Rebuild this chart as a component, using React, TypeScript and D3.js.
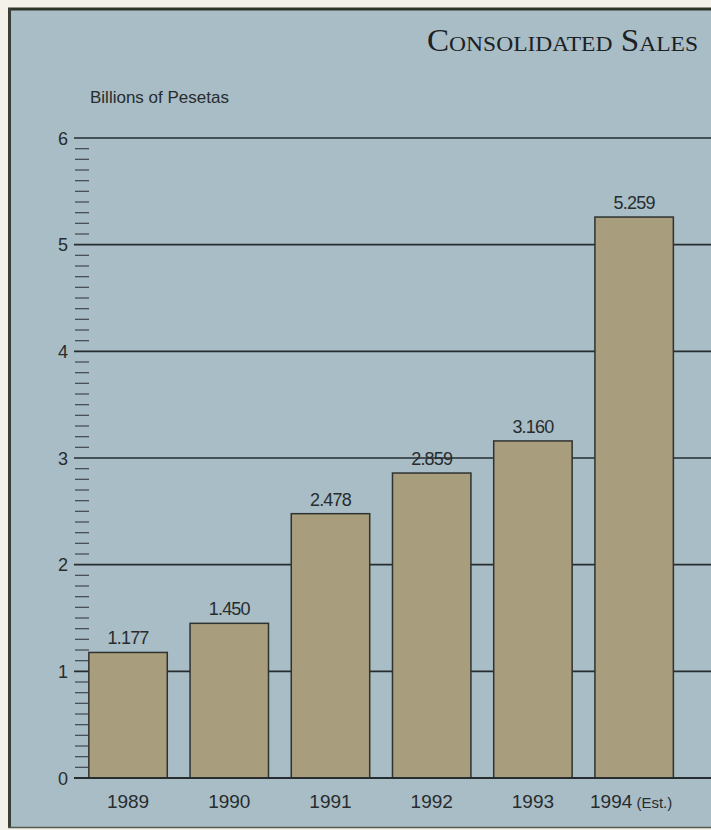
import React from "react";
import * as d3 from "d3";

const years = ["1989", "1990", "1991", "1992", "1993", "1994"];
const yearSuffix = ["", "", "", "", "", " (Est.)"];
const sales = [1.177, 1.45, 2.478, 2.859, 3.16, 5.259];
const valueLabels = ["1.177", "1.450", "2.478", "2.859", "3.160", "5.259"];
const yTicks = [0, 1, 2, 3, 4, 5, 6];

const W = 711;
const H = 830;
const BG = "#a9bdc6";
const BAR = "#a89d7c";
const INK = "#272c2e";

export default function App() {
  const y = d3.scaleLinear().domain([0, 6]).range([778, 138]);
  const x = d3
    .scaleBand<string>()
    .domain(years)
    .range([77.5, 684.7])
    .paddingInner(0.225)
    .paddingOuter(0.112);
  const minor = d3.range(0, 60).map((i) => i / 10).filter((v) => Math.abs(v - Math.round(v)) > 1e-6);

  return (
    <svg
      width={W}
      height={H}
      style={{ position: "absolute", left: 0, top: 0 }}
      fontFamily="'Liberation Sans', Arial, sans-serif"
    >
      <rect x={0} y={0} width={W} height={H} fill="#f4f1ea" />
      <rect x={8} y={8} width={W - 8} height={819} fill={BG} />
      <line x1={8} x2={W} y1={9} y2={9} stroke="#2e3428" strokeWidth={3} />
      <line x1={9.5} x2={9.5} y1={8} y2={828} stroke="#3a3e34" strokeWidth={3} />
      <line x1={8} x2={W} y1={827.5} y2={827.5} stroke="#555a50" strokeWidth={1.5} />

      <text
        x={698}
        y={51}
        textAnchor="end"
        fontFamily="'Liberation Serif', 'Times New Roman', serif"
        fontSize={31}
        fill="#1c2124"
        style={{ fontVariant: "small-caps" }}
        textLength={271}
        lengthAdjust="spacingAndGlyphs"
      >
        Consolidated Sales
      </text>
      <text x={90} y={103} fontSize={17} fill={INK}>
        Billions of Pesetas
      </text>

      {yTicks.map((t) => (
        <g key={"g" + t}>
          <line x1={74} x2={W} y1={y(t)} y2={y(t)} stroke={INK} strokeWidth={1.7} />
          <text x={68} y={y(t) + 6.5} textAnchor="end" fontSize={18} fill={INK}>
            {t}
          </text>
        </g>
      ))}
      {minor.map((v) => (
        <line key={"m" + v} x1={75} x2={89} y1={y(v)} y2={y(v)} stroke={INK} strokeWidth={1.3} opacity={0.75} />
      ))}

      {years.map((yr, i) => {
        const bx = x(yr)!;
        const bw = x.bandwidth();
        return (
          <g key={yr}>
            <rect
              x={bx}
              y={y(sales[i])}
              width={bw}
              height={y(0) - y(sales[i])}
              fill={BAR}
              stroke="#2f3330"
              strokeWidth={1.5}
            />
            <text
              x={bx + bw / 2}
              y={y(sales[i]) - 8}
              textAnchor="middle"
              fontSize={18}
              fill={INK}
              letterSpacing={-0.8}
            >
              {valueLabels[i]}
            </text>
            <text x={bx + bw / 2 - (yearSuffix[i] ? 3 : 0)} y={808} textAnchor="middle" fontSize={19} fill={INK}>
              {yr}
              {yearSuffix[i] ? <tspan fontSize={15}>{yearSuffix[i]}</tspan> : null}
            </text>
          </g>
        );
      })}
      <line x1={74} x2={W} y1={y(0)} y2={y(0)} stroke={INK} strokeWidth={1.9} />
    </svg>
  );
}
